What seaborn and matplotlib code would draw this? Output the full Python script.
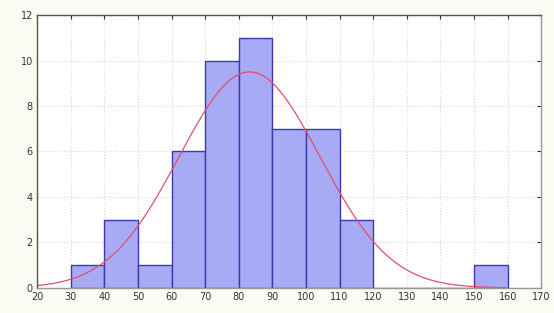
import numpy as np
import pandas as pd
import matplotlib
matplotlib.use("Agg")
import matplotlib.pyplot as plt
import seaborn as sns

# Histogram data
bin_left = [30, 40, 50, 60, 70, 80, 90, 100, 110, 150]
counts = [1, 3, 1, 6, 10, 11, 7, 7, 3, 1]
bin_width = 10
x_ticks = list(range(20, 171, 10))
y_ticks = [0, 2, 4, 6, 8, 10, 12]

sns.set_style("white")
plt.rcParams['font.family'] = ['DejaVu Sans']

fig = plt.figure(figsize=(5.54, 3.13), dpi=100, facecolor="#fbfbf3")
ax = fig.add_axes([0.067, 0.080, 0.910, 0.872])
ax.set_facecolor("white")

df = pd.DataFrame({"mid": [b + bin_width / 2 for b in bin_left], "n": counts})
edges = list(range(30, 161, bin_width))
sns.histplot(data=df, x="mid", weights="n", bins=edges, ax=ax,
             color="#a9aaf6", edgecolor="#3a3aa8", linewidth=1.0, alpha=1.0)

# fitted normal curve from the histogram data
mids = df["mid"].to_numpy()
w = df["n"].to_numpy()
mu = np.average(mids, weights=w) - 0.8
sd = 21.0
xs = np.linspace(20, 160, 400)
ys = w.sum() * bin_width / (sd * np.sqrt(2 * np.pi)) * np.exp(-0.5 * ((xs - mu) / sd) ** 2)
sns.lineplot(x=xs, y=ys, ax=ax, color="#e0506a", linewidth=0.9)

ax.set_xlim(20, 170)
ax.set_ylim(0, 12)
ax.set_xticks(x_ticks)
ax.set_yticks(y_ticks)
ax.set_xlabel("")
ax.set_ylabel("")
ax.grid(True, color="#d8d8d8", linestyle=":", linewidth=0.8)
ax.set_axisbelow(True)
ax.tick_params(axis="both", labelsize=7, colors="#333333", direction="in",
               length=3, top=True, right=True, pad=3)
for s in ax.spines.values():
    s.set_color("#555555")
    s.set_linewidth(1.0)
ax.spines["right"].set_color("#999999")
ax.spines["bottom"].set_color("#999999")

fig.savefig("out.png", dpi=100, facecolor=fig.get_facecolor())
